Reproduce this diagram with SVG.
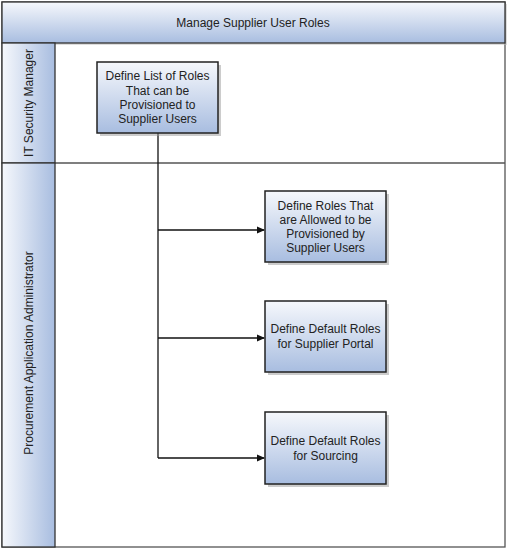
<svg xmlns="http://www.w3.org/2000/svg" width="510" height="552" viewBox="0 0 510 552">
<defs>
<linearGradient id="gv" x1="0" y1="0" x2="0" y2="1"><stop offset="0" stop-color="#f6f8fc"/><stop offset="1" stop-color="#a8bde0"/></linearGradient>
<linearGradient id="gh" x1="0" y1="0" x2="1" y2="0"><stop offset="0" stop-color="#f6f8fc"/><stop offset="1" stop-color="#a8bde0"/></linearGradient>
<marker id="arr" markerWidth="8" markerHeight="8" refX="7" refY="4" orient="auto" markerUnits="userSpaceOnUse"><path d="M0,0.5 L8,4 L0,7.5 Z" fill="#111"/></marker>
<style>
text{font-family:"Liberation Sans",Arial,sans-serif;font-size:12px;fill:#222;text-anchor:middle}
.box{fill:url(#gv);stroke:#222;stroke-width:1.5}
.sh{fill:#999;opacity:0.5}
.conn{fill:none;stroke:#111;stroke-width:1.3}
</style>
</defs>
<rect width="510" height="552" fill="#fff"/>
<g id="pool">
<rect x="2" y="2" width="503" height="545" fill="#fff" stroke="#555" stroke-width="1.3"/>
<rect x="4" y="4" width="503" height="41" fill="#bbb" opacity="0.5"/>
<rect x="2" y="2" width="503" height="41" fill="url(#gv)" stroke="#333" stroke-width="1.3"/>
<text x="253" y="27">Manage Supplier User Roles</text>
</g>
<g id="lane1">
<rect x="2" y="43" width="53" height="120" fill="url(#gh)" stroke="#333" stroke-width="1.3"/>
<line x1="55" y1="163" x2="505" y2="163" stroke="#555" stroke-width="1.3"/>
<text transform="translate(33,103) rotate(-90)">IT Security Manager</text>
</g>
<g id="lane2">
<rect x="2" y="163" width="53" height="384" fill="url(#gh)" stroke="#333" stroke-width="1.3"/>
<text transform="translate(33,353) rotate(-90)">Procurement Application Administrator</text>
</g>
<g id="connectors">
<path class="conn" d="M158,133 V458"/>
<path class="conn" d="M158,230 H264" marker-end="url(#arr)"/>
<path class="conn" d="M158,338 H264" marker-end="url(#arr)"/>
<path class="conn" d="M158,458 H264" marker-end="url(#arr)"/>
</g>
<g id="n1">
<rect class="sh" x="100" y="65" width="121" height="71"/>
<rect class="box" x="97" y="62" width="121" height="71"/>
<text x="157.5" y="80">Define List of Roles</text>
<text x="157.5" y="95">That can be</text>
<text x="157.5" y="109">Provisioned to</text>
<text x="157.5" y="123">Supplier Users</text>
</g>
<g id="n2">
<rect class="sh" x="268" y="194" width="121" height="71"/>
<rect class="box" x="265" y="191" width="121" height="71"/>
<text x="325.5" y="210">Define Roles That</text>
<text x="325.5" y="224">are Allowed to be</text>
<text x="325.5" y="238">Provisioned by</text>
<text x="325.5" y="252">Supplier Users</text>
</g>
<g id="n3">
<rect class="sh" x="268" y="304" width="121" height="71"/>
<rect class="box" x="265" y="301" width="121" height="71"/>
<text x="325.5" y="333">Define Default Roles</text>
<text x="325.5" y="348">for Supplier Portal</text>
</g>
<g id="n4">
<rect class="sh" x="268" y="415" width="121" height="72"/>
<rect class="box" x="265" y="412" width="121" height="72"/>
<text x="325.5" y="445">Define Default Roles</text>
<text x="325.5" y="460">for Sourcing</text>
</g>
</svg>
